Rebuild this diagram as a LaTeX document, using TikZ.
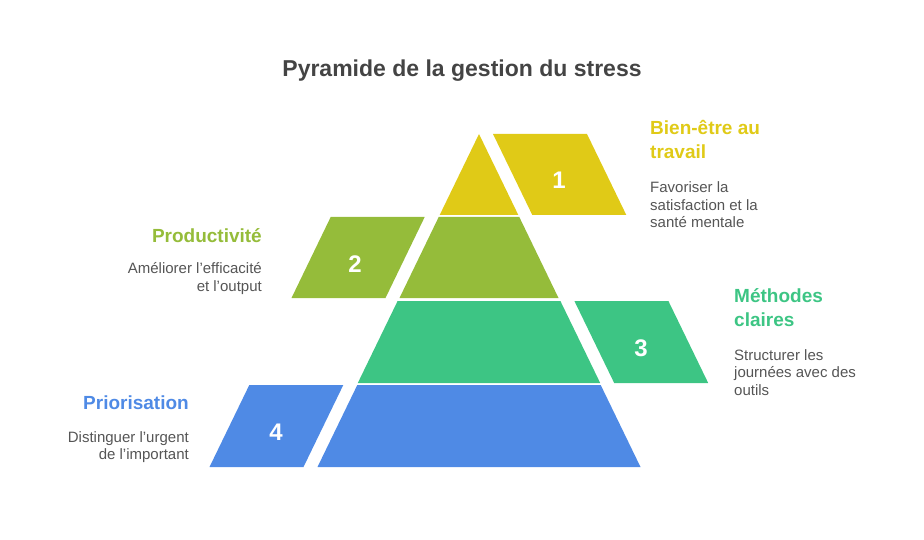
\documentclass[tikz,border=0pt]{standalone}
\usepackage{fontspec}
\setmainfont{Liberation Sans}
\usetikzlibrary{positioning}

\definecolor{lvlyellow}{HTML}{E0CA17}
\definecolor{lvlgreen}{HTML}{95BC3A}
\definecolor{lvlteal}{HTML}{3DC584}
\definecolor{lvlblue}{HTML}{4F8AE5}
\definecolor{titlegray}{HTML}{444444}
\definecolor{descgray}{HTML}{555555}

\begin{document}
\begin{tikzpicture}[
    x=1pt, y=-1pt,
    title/.style={
        font=\fontsize{23}{27}\selectfont\bfseries,
        text=titlegray,
        inner sep=0pt,
        },
    number/.style={
        font=\fontsize{24}{28}\selectfont\bfseries,
        text=white,
        inner sep=0pt,
        },
    heading/.style={
        font=\fontsize{19}{24}\selectfont\bfseries,
        inner sep=0pt,
        },
    desc/.style={
        font=\fontsize{15}{17.5}\selectfont,
        text=descgray,
        inner sep=0pt,
        },
    ]

    \useasboundingbox (0,0) rectangle (924,540);

    \node [title, anchor=base] (title) at (462,77) {Pyramide de la gestion du stress};

    % pyramid levels
    \fill [lvlyellow] (479,134) -- (518.3,215) -- (439.7,215) -- cycle;
    \fill [lvlgreen] (438.7,217) -- (519.3,217) -- (558.5,298) -- (399.5,298) -- cycle;
    \fill [lvlteal] (397.6,301) -- (560.4,301) -- (600.2,383) -- (357.8,383) -- cycle;
    \fill [lvlblue] (357.3,385) -- (600.7,385) -- (640.5,467) -- (317.5,467) -- cycle;

    % side tabs
    \fill [lvlyellow] (493,134) -- (587,134) -- (626.3,215) -- (532.3,215) -- cycle;
    \fill [lvlgreen] (330.7,217) -- (424.7,217) -- (385.5,298) -- (291.5,298) -- cycle;
    \fill [lvlteal] (574.4,301) -- (668.4,301) -- (708.2,383) -- (614.2,383) -- cycle;
    \fill [lvlblue] (249.3,385) -- (343.3,385) -- (303.5,467) -- (209.5,467) -- cycle;

    \node [number] (n1) at (559,180) {1};
    \node [number] (n2) at (355,264) {2};
    \node [number] (n3) at (641,348) {3};
    \node [number] (n4) at (276,432) {4};

    % labels (base = last line)
    \node [heading, text=lvlyellow, anchor=base west, align=left] (h1) at (650,159) {Bien-être au\\travail};
    \node [desc, anchor=base west, align=left] (d1) at (650,228) {Favoriser la\\satisfaction et la\\santé mentale};

    \node [heading, text=lvlgreen, anchor=base east, align=right] (h2) at (262,243) {Productivité};
    \node [desc, anchor=base east, align=right] (d2) at (262,291) {Améliorer l'efficacité\\et l'output};

    \node [heading, text=lvlteal, anchor=base west, align=left] (h3) at (734,326) {Méthodes\\claires};
    \node [desc, anchor=base west, align=left] (d3) at (734,395) {Structurer les\\journées avec des\\outils};

    \node [heading, text=lvlblue, anchor=base east, align=right] (h4) at (189,409) {Priorisation};
    \node [desc, anchor=base east, align=right] (d4) at (189,459.5) {Distinguer l'urgent\\de l'important};

\end{tikzpicture}
\end{document}
